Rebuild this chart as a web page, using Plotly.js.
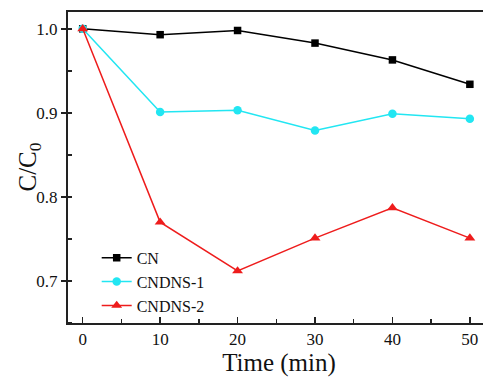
<!DOCTYPE html>
<html>
<head>
<meta charset="utf-8">
<script src="https://cdn.plot.ly/plotly-3.0.1.min.js"></script>
<style>
html,body{margin:0;padding:0;background:#fff;overflow:hidden;}
#chart{width:490px;height:378px;}
</style>
</head>
<body>
<div id="chart"></div>
<script>
const time = [0, 10, 20, 30, 40, 50];
const seriesNames = ["CN", "CNDNS-1", "CNDNS-2"];
const cn = [1.000, 0.993, 0.998, 0.983, 0.963, 0.934];
const cndns1 = [1.000, 0.901, 0.903, 0.879, 0.899, 0.893];
const cndns2 = [1.000, 0.770, 0.712, 0.751, 0.787, 0.751];
const xTickVals = [0, 10, 20, 30, 40, 50];
const yTickVals = [0.7, 0.8, 0.9, 1.0];
const yTickText = ["0.7", "0.8", "0.9", "1.0"];
const yTitle = "C/C<sub>0</sub>";
const xTitle = "Time (min)";

const font = "Liberation Serif";
const traces = [
  {x: time, y: cn, name: seriesNames[0], mode: "lines+markers",
   line: {color: "#000000", width: 1.5},
   marker: {symbol: "square", size: 7.5, color: "#000000"}},
  {x: time, y: cndns1, name: seriesNames[1], mode: "lines+markers",
   line: {color: "#22E6F2", width: 1.5},
   marker: {symbol: "circle", size: 8.5, color: "#22E6F2"}},
  {x: time, y: cndns2, name: seriesNames[2], mode: "lines+markers",
   line: {color: "#EE1C1C", width: 1.5},
   marker: {symbol: "triangle-up", size: 9.5, color: "#EE1C1C"}}
];

const layout = {
  width: 490, height: 378,
  margin: {l: 68, r: 0, t: 12, b: 55},
  paper_bgcolor: "#fff", plot_bgcolor: "#fff",
  font: {family: font, color: "#111", size: 16},
  showlegend: true,
  legend: {x: 0.068, y: 0.264, xanchor: "left", yanchor: "top",
           bgcolor: "rgba(0,0,0,0)", font: {family: font, size: 16, color: "#111"},
           tracegroupgap: 0},
  xaxis: {
    range: [-1.9, 52.6], tickvals: xTickVals, showgrid: false, zeroline: false,
    showline: true, linecolor: "#222", linewidth: 2, mirror: true,
    ticks: "inside", ticklen: 6, tickwidth: 1.5, tickcolor: "#222",
    tickfont: {family: font, size: 17, color: "#111"},
    minor: {dtick: 5, tick0: 0, ticks: "inside", ticklen: 4, tickwidth: 1.5, tickcolor: "#222", showgrid: false},
    title: {text: xTitle, font: {family: font, size: 25, color: "#111"}, standoff: 2}
  },
  yaxis: {
    range: [0.65, 1.02], tickvals: yTickVals, ticktext: yTickText, showgrid: false, zeroline: false,
    showline: true, linecolor: "#222", linewidth: 2, mirror: true,
    ticks: "outside", ticklen: 5, tickwidth: 1.5, tickcolor: "#222",
    tickfont: {family: font, size: 17, color: "#111"},
    minor: {dtick: 0.05, tick0: 0.7, ticks: "inside", ticklen: 4, tickwidth: 1.5, tickcolor: "#222", showgrid: false}
  },
  annotations: [
    {text: yTitle, xref: "paper", yref: "paper", x: 0, y: 0.5, xanchor: "center", yanchor: "middle",
     xshift: -39, yshift: 0, textangle: -90, showarrow: false,
     font: {family: font, size: 25, color: "#111"}}
  ]
};

Plotly.newPlot("chart", traces, layout, {displayModeBar: false, staticPlot: true});
</script>
</body>
</html>
